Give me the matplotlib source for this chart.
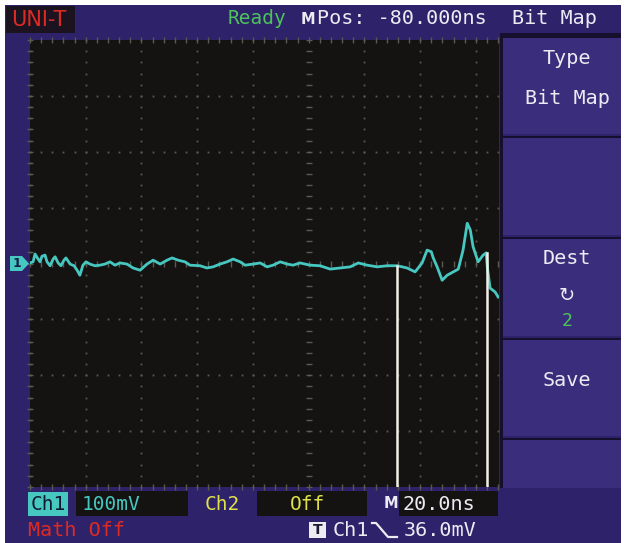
import numpy as np
import matplotlib
matplotlib.use("Agg")
import matplotlib.pyplot as plt
from matplotlib.patches import Rectangle, Polygon
from matplotlib.lines import Line2D

# ---------------- data ----------------
time_ns = [-100, -98.9, -98.2, -97.1, -96.4, -95.7, -94.6, -93.9, -92.8, -91.7,
           -91.0, -89.9, -88.9, -87.8, -87.1, -85.6, -84.2, -83.1, -82.1, -81.0,
           -79.9, -78.5, -76.7, -74.9, -73.1, -71.3, -69.5, -67.7, -65.2, -63.0,
           -60.5, -58.0, -55.8, -53.3, -50.8, -49.0, -46.9, -44.4, -42.6, -39.0,
           -36.5, -34.3, -31.8, -29.3, -27.1, -24.6, -22.8, -19.9, -17.4, -14.9,
           -12.8, -10.2, -7.7, -5.6, -3.1, 0.5, 4.1, 7.7, 11.3, 14.9,
           17.8, 21.0, 24.6, 28.2, 31.8, 35.3, 38.2, 40.7, 42.5, 44.0,
           44.7, 46.1, 47.9, 49.7, 51.9, 53.7, 55.4, 56.9, 58.0, 59.0,
           60.8, 62.6, 63.7, 64.1, 65.1, 66.9, 68.0]
ch1_mV = [1, 3, 17, 8, 3, 13, 15, 3, -4, 8,
          12, 1, -4, 6, 10, -1, -4, -12, -21, -3,
          3, -1, -4, -3, -1, 3, -3, 1, -1, -8,
          -12, -1, 6, -1, 6, 10, 6, 3, -3, -4,
          -8, -6, -1, 3, 8, 3, -3, -1, 1, -6,
          -3, 3, -1, -3, 1, -3, -4, -10, -8, -6,
          1, -3, -6, -4, -4, -8, -15, 1, 24, 21,
          10, -6, -30, -21, -15, -10, 24, 72, 60, 30,
          3, 15, 19, -6, -44, -51, -60]
cursor_t = [31.8, 64.1]
cursor_top_mV = [-4, 19]

header_left = "UNI-T"
header_status = "Ready"
header_pos = "Pos: -80.000ns"
menu_title = "Bit Map"
menu_items = [("Type", "Bit Map"), ("", ""), ("Dest", "2"), ("Save", ""), ("", "")]
ch1_scale = "100mV"
ch2_state = "Off"
timebase = "20.0ns"
trig_level = "36.0mV"
math_state = "Math Off"

# ---------------- figure helpers (pixel coords, origin top-left) ----------------
W, H = 626, 543
fig = plt.figure(figsize=(W / 100, H / 100), dpi=100)
fig.patch.set_facecolor("white")

BG = "#2e226a"
BOX = "#3a2d7c"
DARK = "#16102e"
BLACK = "#151212"
CYAN = "#46c8c0"
WHITE = "#ecebf2"
RED = "#dd2b24"
GREEN = "#4cc35a"
YELLOW = "#dfe04a"
MONO = "DejaVu Sans Mono"


def rect(x0, y0, x1, y1, color, z=-5):
    fig.patches.append(Rectangle((x0 / W, 1 - y1 / H), (x1 - x0) / W, (y1 - y0) / H,
                                 transform=fig.transFigure, facecolor=color,
                                 edgecolor="none", zorder=z))


def text(x, y, s, color, size, ha="left", va="center", family=MONO, weight="normal"):
    fig.text(x / W, 1 - y / H, s, color=color, fontsize=size, ha=ha, va=va,
             family=family, fontweight=weight)


# background panel
rect(5, 5, 621, 543, BG, -10)
# header UNI-T box
rect(6, 6, 75, 33, "#1c1320", -4)
text(11, 20, header_left, RED, 15, family="DejaVu Sans")
text(228, 19, header_status, GREEN, 14)
text(301, 19, "M", WHITE, 10.5, weight="bold", family="DejaVu Sans")
text(317, 19, header_pos, WHITE, 14.5)
text(512, 19, menu_title, WHITE, 14.5)

# right menu
rect(500, 33, 621, 36, DARK, -4)
boxes = [(38, 134), (138, 235), (239, 336), (340, 436), (440, 488)]
for (y0, y1) in boxes:
    rect(502, y0 - 2, 621, y0, DARK, -4)
    rect(502, y0, 621, y1, BOX, -4)
rect(500, 36, 503, 488, DARK, -4)
text(567, 58, menu_items[0][0], WHITE, 14.5, ha="center")
text(567, 98, menu_items[0][1], WHITE, 14.5, ha="center")
text(567, 258, menu_items[2][0], WHITE, 14.5, ha="center")
text(567, 296, "\u21bb", WHITE, 14, ha="center", family="DejaVu Sans")
text(567, 321, menu_items[2][1], GREEN, 13, ha="center")
text(567, 381, menu_items[3][0], WHITE, 14.5, ha="center")

# bottom bar
rect(28, 492, 68, 516, CYAN, -4)
text(48, 504, "Ch1", "#101830", 14, ha="center")
rect(76, 491, 188, 516, BLACK, -4)
text(82, 504, ch1_scale, CYAN, 14)
text(205, 504, "Ch2", YELLOW, 14)
rect(257, 491, 367, 516, BLACK, -4)
text(290, 504, ch2_state, YELLOW, 14)
text(384, 504, "M", WHITE, 10.5, weight="bold", family="DejaVu Sans")
rect(399, 491, 498, 516, BLACK, -4)
text(403, 504, timebase, WHITE, 14.5)
text(28, 530, math_state, RED, 14.5)
rect(309, 522, 326, 538, WHITE, -4)
text(317.5, 530, "T", "#1a1a30", 10, ha="center", weight="bold", family="DejaVu Sans")
text(333, 530, "Ch1", WHITE, 14.5)
fig.lines.append(Line2D([372 / W, 376 / W, 388 / W, 397 / W],
                        [1 - 523 / H, 1 - 523 / H, 1 - 537 / H, 1 - 537 / H],
                        transform=fig.transFigure, color=WHITE, lw=1.6))
text(404, 530, trig_level, WHITE, 14.5)

# channel 1 marker
fig.patches.append(Polygon([(10 / W, 1 - 256 / H), (22 / W, 1 - 256 / H), (29 / W, 1 - 263.5 / H),
                            (22 / W, 1 - 271 / H), (10 / W, 1 - 271 / H)],
                           closed=True, transform=fig.transFigure, facecolor=CYAN,
                           edgecolor="none", zorder=2))
text(17, 263.5, "1", "#14204a", 9, ha="center", weight="bold", family="DejaVu Sans")

# ---------------- scope screen ----------------
ax = fig.add_axes([30 / W, 1 - 487 / H, 469 / W, 447 / H])
ax.set_facecolor(BLACK)
ax.set_xlim(-100, 68.3)
ax.set_ylim(-400, 400)
ax.set_xticks([])
ax.set_yticks([])
for s in ax.spines.values():
    s.set_visible(False)

GRID = "#5a5a4e"
vs = np.arange(-400, 401, 20)
ts = np.arange(-100, 68.4, 4)
for k in range(9):
    t = -100 + 20 * k
    if t == 0:
        ax.plot([t] * len(vs), vs, ls="none", marker="_", ms=5, mew=1.0, color=GRID)
    else:
        ax.plot([t] * len(vs), vs, ls="none", marker="s", ms=1.3, mew=0, color=GRID)
for v in range(-300, 301, 100):
    if v == 0:
        ax.plot(ts, [v] * len(ts), ls="none", marker="|", ms=5, mew=1.0, color=GRID)
    else:
        ax.plot(ts, [v] * len(ts), ls="none", marker="s", ms=1.3, mew=0, color=GRID)
for v in (-400, 400):
    ax.plot(ts, [v] * len(ts), ls="none", marker="|", ms=5, mew=1.0, color=GRID, clip_on=False)
ax.plot([-100] * len(vs), vs, ls="none", marker="_", ms=5, mew=1.0, color=GRID, clip_on=False)

ax.plot(time_ns, ch1_mV, color=CYAN, lw=2.0, zorder=5, solid_joinstyle="round")
for t, top in zip(cursor_t, cursor_top_mV):
    ax.plot([t, t], [top, -400], color="#f2efe6", lw=1.8, zorder=6)

fig.savefig("out.png", dpi=100, facecolor=fig.get_facecolor())
